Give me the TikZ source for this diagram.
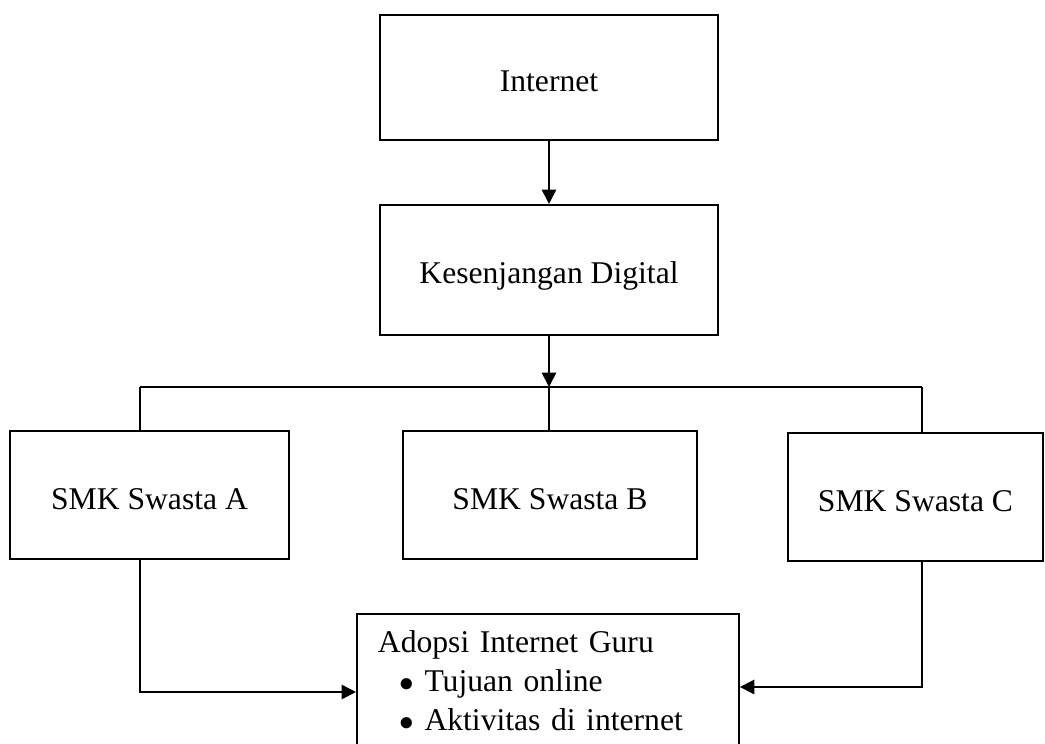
\documentclass[tikz,border=0pt]{standalone}
\usepackage{fontspec}
\setmainfont{Liberation Serif}
\usetikzlibrary{positioning,arrows.meta}

\begin{document}
\begin{tikzpicture}[x=0.025cm, y=-0.025cm, line width=1.3pt,
    every node/.style={font=\fontsize{22.5}{27.7}\selectfont},
    box/.style={draw, minimum height=3.2cm, text height=0.9cm, text depth=0.2cm},
    arr/.style={-{Triangle[length=3.6mm,width=3.6mm]}}]
  \useasboundingbox (0,0) rectangle (1045,743);
  \clip (0,0) rectangle (1045,743);
  \node[box, minimum width=8.45cm, minimum height=3.125cm] (internet) at (549,77.5) {Internet};
  \node[box, below=1.575cm of internet, minimum width=8.45cm, minimum height=3.25cm] (gap) {Kesenjangan Digital};
  \node[box, minimum width=6.975cm] (smkA) at (149.5,495) {SMK Swasta A};
  \node[box, minimum width=7.35cm] (smkB) at (550,495) {SMK Swasta B};
  \node[box, minimum width=6.375cm] (smkC) at (915.5,497) {SMK Swasta C};
  \node[draw, anchor=north west, text width=8.5cm, align=left, inner xsep=0.525cm, inner ysep=0.42cm] (adopsi) at (356,613)
    {Adopsi Internet Guru\\
     \hspace*{0.55cm}$\bullet$\hspace{0.25cm}Tujuan online\\
     \hspace*{0.55cm}$\bullet$\hspace{0.25cm}Aktivitas di internet};
  % cabang ke tiga sekolah
  \coordinate (bar) at (gap.south |- 0,387);
  \coordinate (jA) at (140,387);
  \coordinate (jC) at (922,387);
  \coordinate (tA) at (140,692);
  \coordinate (tC) at (922,687);
  \draw[arr] (internet) -- (gap);
  \draw[arr] (gap) -- (bar);
  \draw (jA) -- (jC);
  \draw (jA) -- (jA |- smkA.north);
  \draw (bar) -- (bar |- smkB.north);
  \draw (jC) -- (jC |- smkC.north);
  \draw[arr] (tA |- smkA.south) -- (tA) -- (tA -| adopsi.west);
  \draw[arr] (tC |- smkC.south) -- (tC) -- (tC -| adopsi.east);
\end{tikzpicture}
\end{document}
